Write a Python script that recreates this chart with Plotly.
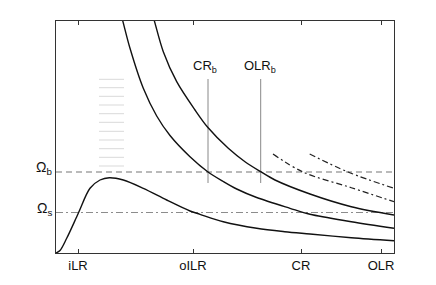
import plotly.graph_objects as go

# radius (arbitrary units) and pattern speed (arbitrary units)
hump_r = [0, 4, 10.7, 22.3, 34, 44, 53.3, 67.3, 87.3, 110.7, 134, 144, 167.3, 200.7, 228.7, 254, 295.3, 338]
hump_w = [0, 2.5, 14.7, 39.7, 64.7, 73, 75.3, 73, 64.7, 53, 42, 38.7, 31.3, 24.7, 21.3, 19, 15.3, 12.3]

omega_r = [64, 66.7, 74, 87.3, 100.7, 114, 134, 151.7, 167.3, 180.7, 200.7, 234, 254, 295.3, 338]
omega_w = [242, 232.3, 204.7, 164.7, 137, 117.5, 96.3, 81.3, 71.5, 64, 55.5, 44.7, 38.7, 31.3, 24.7]

outer_r = [95.4, 98.3, 107.3, 120.7, 139, 151.7, 172.3, 189, 204.7, 219, 254, 295.3, 338]
outer_w = [242, 232.3, 201.3, 171.3, 143, 125.7, 104.7, 91.3, 81.3, 73, 59, 46.3, 38]

dd1_r = [217, 247, 295.3, 338]
dd1_w = [99, 81, 65.3, 51.3]
dd2_r = [253.7, 292, 338]
dd2_w = [99, 81, 64.7]

omega_b = 81
omega_s = 40.5
bar_res_names = ["CR<sub>b</sub>", "OLR<sub>b</sub>"]
bar_res_r = [152, 204.7]
bar_res_span = [70, 174]
bar_label_w = 187

grey_r = [43, 68]
grey_w = [173.7, 165.3, 156.7, 148, 139.3, 130.7, 121.7, 113, 104.3, 95.7, 87]

tick_pos = [22, 137, 245, 325]
tick_text = ["iLR", "oILR", "CR", "OLR"]
level_names = ["Ω<sub>b</sub>", "Ω<sub>s</sub>"]
level_vals = [omega_b, omega_s]
x_range = [0, 338]
y_range = [0, 232]

fig = go.Figure()

for w in grey_w:
    fig.add_trace(go.Scatter(x=grey_r, y=[w, w], mode="lines",
                             line=dict(color="#d9d9d9", width=1), hoverinfo="skip"))

fig.add_trace(go.Scatter(x=x_range, y=[omega_b, omega_b], mode="lines",
                         line=dict(color="#777777", width=1.2, dash="6px,4px")))
fig.add_trace(go.Scatter(x=x_range, y=[omega_s, omega_s], mode="lines",
                         line=dict(color="#8c8c8c", width=1.2, dash="7px,3px,2px,3px")))

for r in bar_res_r:
    fig.add_trace(go.Scatter(x=[r, r], y=bar_res_span, mode="lines",
                             line=dict(color="#888888", width=1)))

for xs, ys in [(hump_r, hump_w), (omega_r, omega_w), (outer_r, outer_w)]:
    fig.add_trace(go.Scatter(x=xs, y=ys, mode="lines",
                             line=dict(color="#111111", width=1.4, shape="spline", smoothing=0.9)))

for xs, ys in [(dd1_r, dd1_w), (dd2_r, dd2_w)]:
    fig.add_trace(go.Scatter(x=xs, y=ys, mode="lines",
                             line=dict(color="#222222", width=1.2, shape="spline",
                                       dash="6px,3px,2px,3px")))

for name, r, dx in zip(bar_res_names, bar_res_r, [-3, -1]):
    fig.add_annotation(x=r + dx, y=bar_label_w, xref="x", yref="y", text=name, showarrow=False,
                       font=dict(size=13, color="#111111"), xanchor="center", yanchor="middle")

for name, v in zip(level_names, level_vals):
    fig.add_annotation(x=0, y=v, xref="paper", yref="y", text=name, showarrow=False,
                       font=dict(size=14, color="#111111"), xanchor="right", yanchor="middle",
                       xshift=-2, yshift=4)

# the page body keeps an 8px default margin, so the figure is made 8px smaller
# on the left/top to land the plot box where the reference has it
fig.update_layout(
    width=428, height=277,
    margin=dict(l=48, r=42, t=13, b=32, autoexpand=False),
    paper_bgcolor="white", plot_bgcolor="white",
    showlegend=False,
    font=dict(family="Liberation Sans, Arial, sans-serif", size=13, color="#111111"),
)
fig.update_xaxes(range=x_range, showgrid=False, zeroline=False, automargin=False,
                 showline=True, linecolor="#333333", linewidth=1, mirror="ticks",
                 ticks="inside", ticklen=4, tickcolor="#333333",
                 tickvals=tick_pos, ticktext=tick_text, tickfont=dict(size=13))
fig.update_yaxes(range=y_range, showgrid=False, zeroline=False, automargin=False,
                 showline=True, linecolor="#333333", linewidth=1, mirror=True,
                 ticks="", showticklabels=False)

fig.write_html("out.html")
